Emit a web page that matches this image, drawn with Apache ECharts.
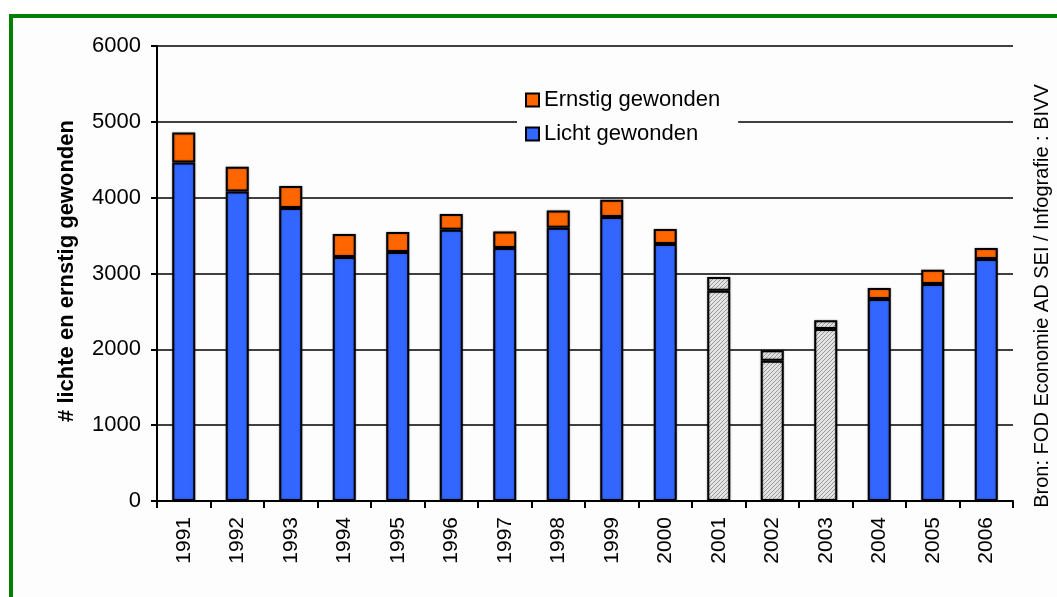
<!DOCTYPE html>
<html>
<head>
<meta charset="utf-8">
<script src="https://cdn.jsdelivr.net/npm/echarts@6/dist/echarts.min.js"></script>
<style>
  html, body { margin: 0; padding: 0; background: #ffffff; }
  #frame { position: absolute; left: 9px; top: 14px; width: 1200px; height: 700px;
           border-left: 4px solid #008000; border-top: 4px solid #008000; background: #fdfdfd; }
  #chart { position: absolute; left: 0; top: 0; width: 1057px; height: 597px; }
</style>
</head>
<body>
<div id="frame"></div>
<div id="chart"></div>
<script>
// Gewonden per jaar
const years = ['1991','1992','1993','1994','1995','1996','1997','1998','1999','2000','2001','2002','2003','2004','2005','2006'];
const lichtGewonden = [4464, 4082, 3863, 3217, 3283, 3577, 3336, 3603, 3744, 3389, 2773, 1851, 2269, 2664, 2862, 3191];
const ernstigGewonden = [395, 325, 290, 303, 264, 207, 219, 228, 228, 197, 181, 136, 113, 145, 188, 145];
// Jaren met onvolledige gegevens (gearceerd)
const hatchedYears = ['2001', '2002', '2003'];
const yTicks = [0, 1000, 2000, 3000, 4000, 5000, 6000];

const FONT = '"Liberation Sans", Arial, sans-serif';
const BLUE = '#3366ff';
const ORANGE = '#ff6600';

// Diagonal hatch fill
function makeHatch() {
  const c = document.createElement('canvas');
  c.width = 4; c.height = 4;
  const g = c.getContext('2d');
  g.fillStyle = '#e4e4e4';
  g.fillRect(0, 0, 4, 4);
  g.strokeStyle = '#999999';
  g.lineWidth = 1;
  g.beginPath();
  g.moveTo(0, 4); g.lineTo(4, 0);
  g.moveTo(-1, 1); g.lineTo(1, -1);
  g.moveTo(3, 5); g.lineTo(5, 3);
  g.stroke();
  return c;
}
const hatch = { image: makeHatch(), repeat: 'repeat' };

function seriesData(values) {
  return values.map((v, i) => hatchedYears.includes(years[i])
    ? { value: v, itemStyle: { color: hatch } }
    : v);
}

const barStyle = (color) => ({
  color: color,
  borderColor: '#000',
  borderWidth: 2,
  shadowColor: 'rgba(0,0,0,0.35)',
  shadowBlur: 2
});

const chart = echarts.init(document.getElementById('chart'), null, { renderer: 'canvas' });
chart.setOption({
  animation: false,
  backgroundColor: 'transparent',
  textStyle: { fontFamily: FONT },
  grid: { left: 157, right: 44, top: 46, bottom: 96, containLabel: false },
  legend: {
    data: ['Ernstig gewonden', 'Licht gewonden'],
    orient: 'vertical',
    left: 517,
    top: 85,
    padding: [4, 18, 4, 8],
    itemGap: 12,
    itemWidth: 13,
    itemHeight: 13,
    icon: 'rect',
    backgroundColor: '#fdfdfd',
    textStyle: { fontSize: 22, color: '#000', fontFamily: FONT }
  },
  xAxis: {
    type: 'category',
    data: years,
    boundaryGap: true,
    axisLine: { lineStyle: { color: '#000', width: 2 } },
    axisTick: { show: true, alignWithLabel: false, length: 7, lineStyle: { color: '#000', width: 2 } },
    axisLabel: { rotate: 90, margin: 16, fontSize: 21, color: '#000', fontFamily: FONT }
  },
  yAxis: {
    type: 'value',
    min: yTicks[0],
    max: yTicks[yTicks.length - 1],
    interval: 1000,
    axisLine: { show: true, lineStyle: { color: '#000', width: 2 } },
    axisTick: { show: true, length: 6, lineStyle: { color: '#000', width: 2 } },
    axisLabel: { margin: 16, fontSize: 22, color: '#000', fontFamily: FONT,
                 formatter: (v) => String(v) },
    splitLine: { show: true, lineStyle: { color: '#000', width: 1.6 } }
  },
  graphic: [
    {
      type: 'text',
      rotation: Math.PI / 2,
      x: 67, y: 271,
      style: {
        text: '# lichte en ernstig gewonden',
        font: 'bold 22px ' + FONT,
        fill: '#000',
        textAlign: 'center',
        textVerticalAlign: 'middle'
      }
    },
    {
      type: 'text',
      rotation: Math.PI / 2,
      x: 1042, y: 296,
      style: {
        text: 'Bron: FOD Economie AD SEI / Infografie : BIVV',
        font: '20px ' + FONT,
        fill: '#000',
        textAlign: 'center',
        textVerticalAlign: 'middle'
      }
    }
  ],
  series: [
    {
      name: 'Licht gewonden',
      type: 'bar',
      stack: 'gewonden',
      barWidth: '43%',
      itemStyle: barStyle(BLUE),
      data: seriesData(lichtGewonden)
    },
    {
      name: 'Ernstig gewonden',
      type: 'bar',
      stack: 'gewonden',
      barWidth: '43%',
      itemStyle: barStyle(ORANGE),
      data: seriesData(ernstigGewonden)
    }
  ]
});
</script>
</body>
</html>
